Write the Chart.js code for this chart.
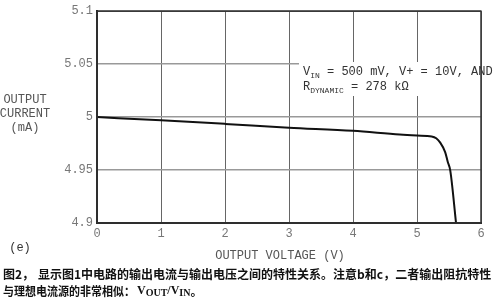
<!DOCTYPE html>
<html>
<head>
<meta charset="utf-8">
<script src="https://cdn.jsdelivr.net/npm/chart.js@4"></script>
<style>
  html, body { margin: 0; padding: 0; background: #fff; }
  canvas { display: block; }
</style>
</head>
<body>
<canvas id="ivChart" width="500" height="301"></canvas>
<script>
// Dữ liệu: điện áp ra (V) và dòng ra (mA)
const outputVoltage = [0, 1, 2, 3, 4, 4.73, 5.0, 5.23, 5.30, 5.36, 5.44, 5.48, 5.52, 5.61];
const outputCurrent = [5.000, 4.997, 4.9936, 4.990, 4.987, 4.9835, 4.9826, 4.9817, 4.980, 4.9761, 4.967, 4.9578, 4.9495, 4.900];
const xTicks = [0, 1, 2, 3, 4, 5, 6];
const yTicks = [4.9, 4.95, 5, 5.05, 5.1];

const mono = '"Liberation Mono", "DejaVu Sans Mono", monospace';
const cjk = '"Noto Sans CJK SC", "Noto Sans", sans-serif';

const points = outputVoltage.map((v, i) => ({ x: v, y: outputCurrent[i] }));

// Vẽ chữ có chỉ số dưới, trả về x kết thúc
function subText(ctx, parts, x, y) {
    parts.forEach(p => {
        ctx.font = p.sub ? '8px ' + mono : '12px ' + mono;
        ctx.fillText(p.t, x, p.sub ? y + 4 : y);
        x += ctx.measureText(p.t).width;
    });
    return x;
}

const decorPlugin = {
    id: 'decor',
    beforeDatasetsDraw(chart) {
        const ctx = chart.ctx;
        const a = chart.chartArea;
        ctx.save();
        // nền trắng cho chú thích
        ctx.fillStyle = '#fff';
        ctx.fillRect(299, 62, a.right - 299, 34);
        ctx.fillStyle = '#333';
        ctx.textBaseline = 'middle';
        subText(ctx, [{ t: 'V' }, { t: 'IN', sub: true }, { t: ' = 500 mV, V+ = 10V, AND' }], 303, 72);
        subText(ctx, [{ t: 'R' }, { t: 'DYNAMIC', sub: true }, { t: ' = 278 kΩ' }], 303, 87);
        ctx.restore();
    },
    afterDraw(chart) {
        const ctx = chart.ctx;
        const a = chart.chartArea;
        ctx.save();
        ctx.strokeStyle = '#333';
        ctx.lineWidth = 1.5;
        ctx.strokeRect(a.left, a.top, a.right - a.left, a.bottom - a.top);

        ctx.fillStyle = '#555';
        ctx.font = '12px ' + mono;
        ctx.textAlign = 'center';
        ctx.textBaseline = 'middle';
        ctx.fillText('OUTPUT', 25, 100);
        ctx.fillText('CURRENT', 25, 114);
        ctx.fillText('(mA)', 25, 128);
        ctx.fillText('OUTPUT VOLTAGE (V)', 280, 256);
        ctx.fillStyle = '#333';
        ctx.fillText('(e)', 20, 248);

        // chú thích tiếng Trung
        ctx.fillStyle = '#111';
        ctx.textAlign = 'left';
        ctx.font = 'bold 12px ' + cjk;
        ctx.fillText('图2，', 3, 274);
        ctx.fillText('显示图1中电路的输出电流与输出电压之间的特性关系。注意b和c，二者输出阻抗特性', 38, 274, 459);
        ctx.fillText('与理想电流源的非常相似：', 3, 291, 132);
        let x = 137;
        ctx.font = 'bold 12px "Liberation Serif", serif';
        ctx.fillText('V', x, 291); x += ctx.measureText('V').width;
        ctx.font = 'bold 10px "Liberation Serif", serif';
        ctx.fillText('OUT', x, 293); x += ctx.measureText('OUT').width;
        ctx.font = 'bold 12px "Liberation Serif", serif';
        ctx.fillText('/V', x, 291); x += ctx.measureText('/V').width;
        ctx.font = 'bold 10px "Liberation Serif", serif';
        ctx.fillText('IN', x, 293); x += ctx.measureText('IN').width;
        ctx.font = 'bold 12px ' + cjk;
        ctx.fillText('。', x, 291);
        ctx.restore();
    }
};

const fmt = v => String(Number(v.toFixed(2)));

const ivChart = new Chart(document.getElementById('ivChart').getContext('2d'), {
    type: 'scatter',
    data: {
        datasets: [{
            data: points,
            showLine: true,
            borderColor: '#111',
            borderWidth: 2,
            pointRadius: 0,
            cubicInterpolationMode: 'monotone',
            fill: false
        }]
    },
    options: {
        responsive: false,
        animation: false,
        layout: { padding: { top: 5, right: 19, left: 0, bottom: 0 } },
        plugins: {
            legend: { display: false },
            tooltip: { enabled: false }
        },
        scales: {
            x: {
                type: 'linear',
                min: 0,
                max: 6,
                afterBuildTicks: s => { s.ticks = xTicks.map(v => ({ value: v })); },
                afterFit: s => { s.height = 78; },
                ticks: { color: '#777', font: { family: mono, size: 12 }, padding: 4, callback: fmt },
                grid: { color: '#666', lineWidth: 1, drawTicks: false },
                border: { color: '#222', width: 2 }
            },
            y: {
                min: 4.9,
                max: 5.1,
                afterBuildTicks: s => { s.ticks = yTicks.map(v => ({ value: v })); },
                afterFit: s => { s.width = 97; },
                ticks: { color: '#777', font: { family: mono, size: 12 }, padding: 4, callback: fmt },
                grid: { color: '#999', lineWidth: 1.5, drawTicks: false },
                border: { color: '#222', width: 2 }
            }
        }
    },
    plugins: [decorPlugin]
});
</script>
</body>
</html>
